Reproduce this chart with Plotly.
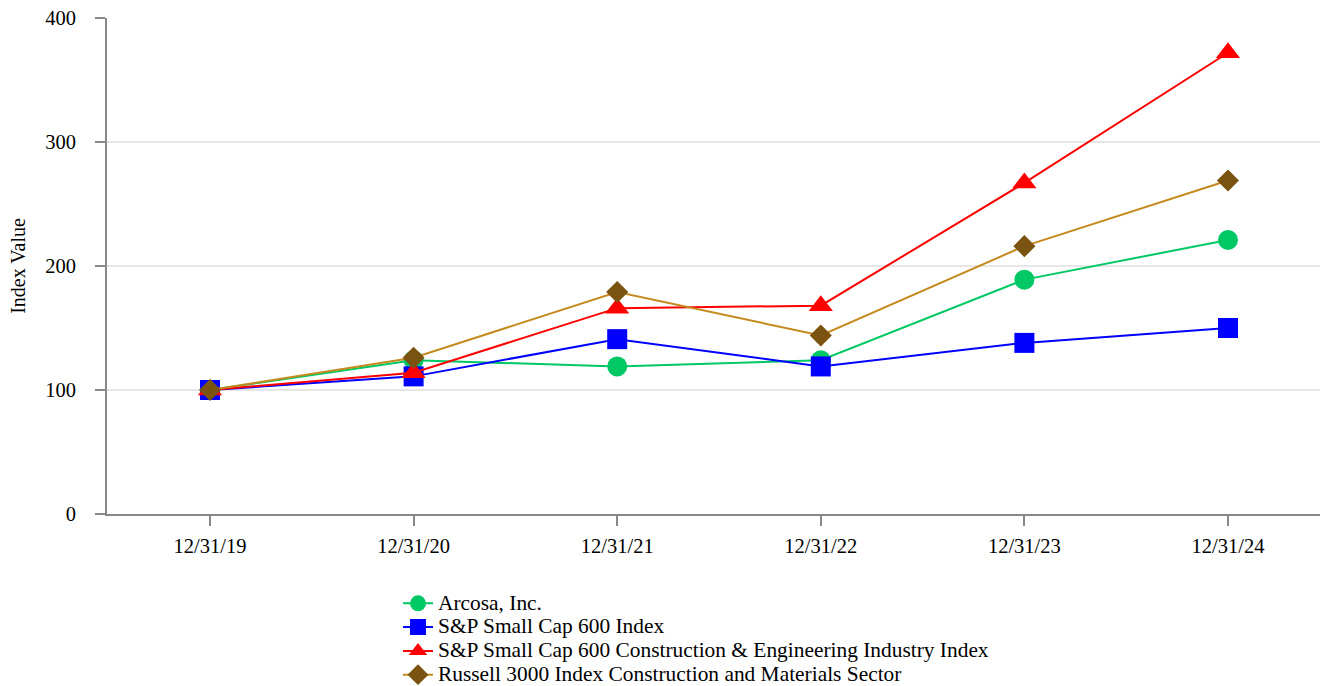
import plotly.graph_objects as go

dates = ["12/31/19", "12/31/20", "12/31/21", "12/31/22", "12/31/23", "12/31/24"]
arcosa = [100, 124, 119, 124, 189, 221]
sp600 = [100, 111, 141, 119, 138, 150]
sp600_ce = [100, 114, 166, 168, 267, 372]
russell_cm = [100, 126, 179, 144, 216, 269]
y_ticks = [0, 100, 200, 300, 400]

FONT = "Liberation Serif, Times New Roman, serif"

series = [
    ("Arcosa, Inc.", arcosa, "#00C864", "#00C864", "circle", 20),
    ("S&P Small Cap 600 Index", sp600, "#0000FF", "#0000FF", "square", 20),
    ("S&P Small Cap 600 Construction & Engineering Industry Index", sp600_ce, "#FF0000", "#FF0000", "triangle-up", 21),
    ("Russell 3000 Index Construction and Materials Sector", russell_cm, "#C48A1E", "#7B5310", "diamond", 17),
]

fig = go.Figure()
for name, vals, lc, mc, sym, sz in series:
    fig.add_trace(go.Scatter(
        x=dates, y=vals, mode="lines+markers",
        name='<span style="font-size:21.4px">' + name.replace("&", "&amp;") + "</span>",
        line=dict(color=lc, width=2),
        marker=dict(symbol=sym, size=sz, color=mc, line=dict(width=0)),
    ))

fig.update_layout(
    width=1320, height=686,
    margin=dict(l=107, r=0, t=18, b=172, autoexpand=False),
    paper_bgcolor="white", plot_bgcolor="white",
    font=dict(family=FONT, size=20, color="#000000"),
    showlegend=True,
    legend=dict(
        x=(398 - 107) / 1213, xanchor="left",
        y=-0.146, yanchor="top",
        font=dict(family=FONT, size=16, color="#000000"),
        bgcolor="rgba(0,0,0,0)", borderwidth=0,
        tracegroupgap=0, itemwidth=30,
    ),
    xaxis=dict(
        type="category", categoryorder="array", categoryarray=dates,
        range=[-0.506, 5.452],
        showline=True, linecolor="#888888", linewidth=2,
        ticks="outside", ticklen=10, tickcolor="#888888", tickwidth=2,
        showgrid=False, zeroline=False,
        tickfont=dict(family=FONT, size=20.5, color="#000000"),
        ticklabelstandoff=2,
    ),
    yaxis=dict(
        range=[0, 400], tickvals=y_ticks,
        showline=True, linecolor="#888888", linewidth=2,
        ticks="outside", ticklen=10, tickcolor="#888888", tickwidth=2,
        showgrid=True, gridcolor="#E6E6E6", gridwidth=2,
        zeroline=False,
        tickfont=dict(family=FONT, size=20.5, color="#000000"),
        ticklabelstandoff=15,
        title=dict(text="Index Value", font=dict(family=FONT, size=20, color="#000000"), standoff=14),
    ),
)

fig.write_html("out.html")
